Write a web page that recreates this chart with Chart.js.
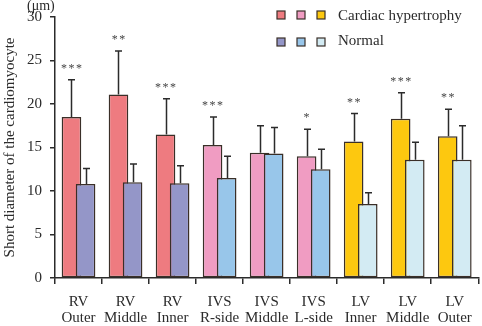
<!DOCTYPE html>
<html><head><meta charset="utf-8">
<script src="https://cdn.jsdelivr.net/npm/chart.js@4"></script>
<style>html,body{margin:0;padding:0;background:#fff}</style>
</head><body>
<canvas id="c" width="482" height="326"></canvas>
<script>
// ---- data ----
const categories = [['RV','Outer'],['RV','Middle'],['RV','Inner'],['IVS','R-side'],['IVS','Middle'],['IVS','L-side'],['LV','Inner'],['LV','Middle'],['LV','Outer']];
const seriesNames = ['Cardiac hypertrophy', 'Normal'];
const hypertrophyMean = [18.5, 21.1, 16.5, 15.3, 14.4, 14.0, 15.7, 18.3, 16.3];
const hypertrophySD   = [4.3, 5.0, 4.1, 3.2, 3.1, 3.1, 3.2, 3.0, 3.1];
const normalMean      = [10.8, 11.0, 10.9, 11.5, 14.3, 12.5, 8.5, 13.6, 13.6];
const normalSD        = [1.8, 2.1, 2.0, 2.5, 3.0, 2.3, 1.3, 2.0, 3.9];
const significance    = ['***', '**', '***', '***', '', '*', '**', '***', '**'];
const yMin = 0, yMax = 30, yStep = 5;
const yTitle = 'Short diameter of the cardiomyocyte';
const unitLabel = '(\u03BCm)';

// ---- styles ----
const hypPalette = ['#EE7B80', '#F09CC2', '#FDC80F'];
const normPalette = ['#9496C8', '#98C6EA', '#D3EBF3'];
const regionOf = [0,0,0,1,1,1,2,2,2];
const hypColors = regionOf.map(r => hypPalette[r]);
const normColors = regionOf.map(r => normPalette[r]);
const ink = '#2b2b2b';
const barBorder = '#3a2f28';
const serif = '"Liberation Serif", "Times New Roman", serif';

const sdSets = [hypertrophySD, normalSD];

const customDraw = {
  id: 'customDraw',
  beforeDatasetsDraw(chart) {
    // draw hypertrophy first, normal on top
    for (let i = 0; i < chart.data.datasets.length; i++) {
      chart.getDatasetMeta(i).controller.draw();
    }
    return false;
  },
  afterDraw(chart) {
    const ctx = chart.ctx;
    const y = chart.scales.y;
    ctx.save();
    // error bars
    ctx.strokeStyle = ink;
    ctx.lineWidth = 1.5;
    chart.data.datasets.forEach((ds, i) => {
      const meta = chart.getDatasetMeta(i);
      meta.data.forEach((el, j) => {
        const top = y.getPixelForValue(ds.data[j] + sdSets[i][j]);
        const x = Math.round(el.x) + 0.5;
        ctx.beginPath();
        ctx.moveTo(x, el.y);
        ctx.lineTo(x, top);
        ctx.moveTo(x - 3.5, top);
        ctx.lineTo(x + 3.5, top);
        ctx.stroke();
      });
    });
    // significance stars
    ctx.fillStyle = '#444';
    ctx.font = '12px ' + serif;
    ctx.textAlign = 'center';
    ctx.textBaseline = 'middle';
    const meta0 = chart.getDatasetMeta(0);
    significance.forEach((s, j) => {
      if (!s) return;
      const el = meta0.data[j];
      const top = y.getPixelForValue(hypertrophyMean[j] + hypertrophySD[j]);
      const n = s.length, sp = 7.5;
      for (let k = 0; k < n; k++) {
        const sx = el.x + (k - (n - 1) / 2) * sp;
        ctx.fillText('*', sx, top - 11);
      }
    });
    // unit label
    ctx.fillStyle = ink;
    ctx.font = '14px ' + serif;
    ctx.textAlign = 'left';
    ctx.textBaseline = 'alphabetic';
    ctx.fillText(unitLabel, 27, 10);
    // legend
    const rows = [{y: 11, colors: hypPalette, text: seriesNames[0], base: 19.5},
                  {y: 38, colors: normPalette, text: seriesNames[1], base: 45}];
    ctx.font = '15px ' + serif;
    rows.forEach(r => {
      r.colors.forEach((c, k) => {
        const bx = 277 + k * 20;
        ctx.fillStyle = c;
        ctx.fillRect(bx, r.y, 8, 8);
        ctx.strokeStyle = barBorder;
        ctx.lineWidth = 1.2;
        ctx.strokeRect(bx, r.y, 8, 8);
      });
      ctx.fillStyle = ink;
      ctx.fillText(r.text, 338, r.base);
    });
    ctx.restore();
  }
};

new Chart(document.getElementById('c'), {
  type: 'bar',
  data: {
    labels: categories,
    datasets: [
      {label: seriesNames[0], data: hypertrophyMean, backgroundColor: hypColors,
       borderColor: barBorder, borderWidth: 1.5, borderSkipped: false,
       categoryPercentage: 0.6, barPercentage: 1.39},
      {label: seriesNames[1], data: normalMean, backgroundColor: normColors,
       borderColor: barBorder, borderWidth: 1.5, borderSkipped: false,
       categoryPercentage: 0.6, barPercentage: 1.39}
    ]
  },
  options: {
    responsive: false,
    devicePixelRatio: 1,
    animation: false,
    layout: {padding: {top: 17, right: 3, left: 0, bottom: 0}},
    plugins: {legend: {display: false}, tooltip: {enabled: false}},
    scales: {
      x: {
        grid: {display: true, drawOnChartArea: false, drawTicks: true, tickLength: 6, color: ink, lineWidth: 1.5, offset: true},
        border: {display: true, color: ink, width: 1.5},
        ticks: {color: ink, font: {family: serif, size: 15, lineHeight: '16px'}, padding: 10, maxRotation: 0, autoSkip: false},
        afterFit(s) { s.height = 48; }
      },
      y: {
        min: yMin, max: yMax,
        grid: {display: true, drawOnChartArea: false, drawTicks: true, tickLength: 5, color: ink, lineWidth: 1.5},
        border: {display: true, color: ink, width: 1.5},
        ticks: {stepSize: yStep, color: ink, font: {family: serif, size: 15}, padding: 8},
        title: {display: true, text: yTitle, color: ink, font: {family: serif, size: 15}, padding: {top: 1, bottom: 0}},
        afterFit(s) { s.width = 55; }
      }
    }
  },
  plugins: [customDraw]
});
</script>
</body></html>
